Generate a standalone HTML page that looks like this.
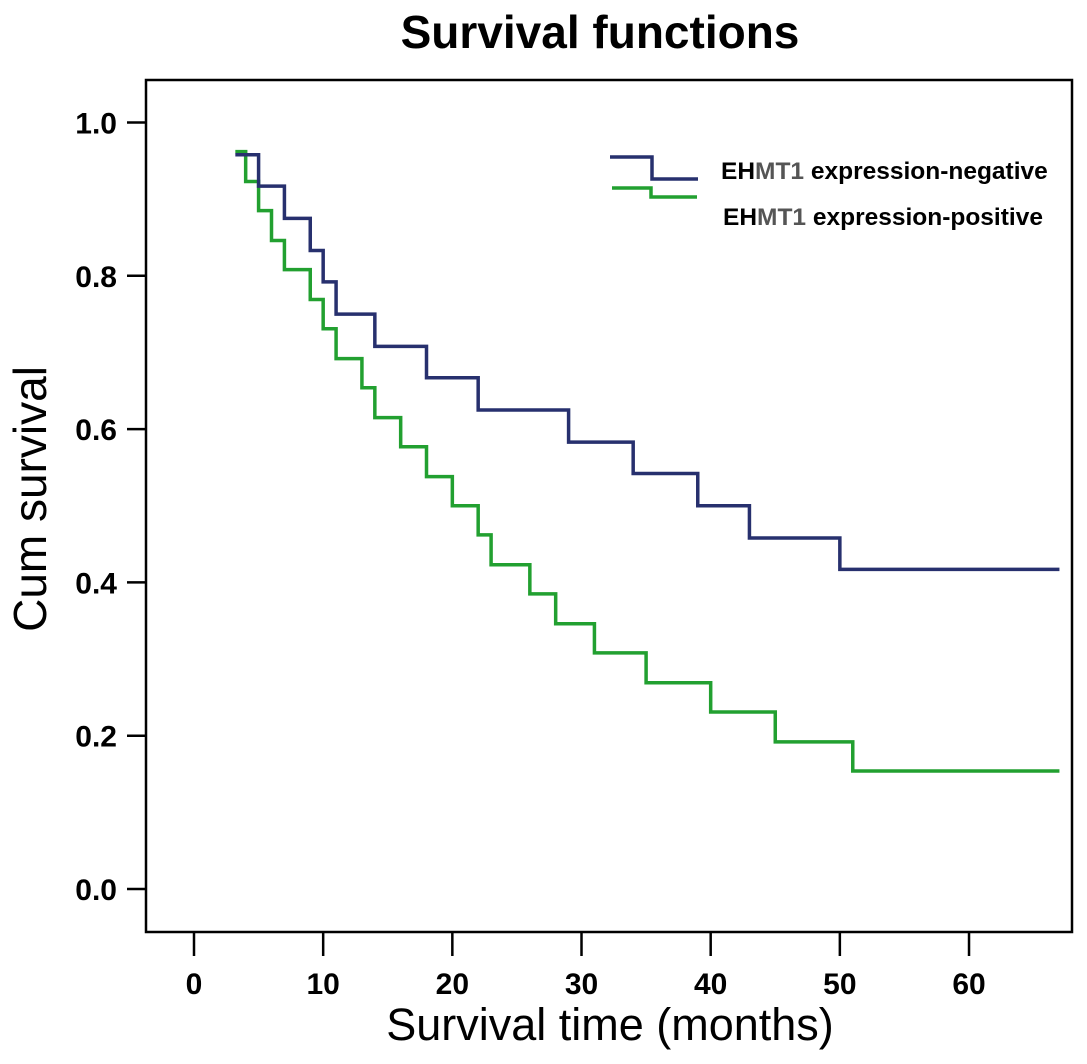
<!DOCTYPE html>
<html><head><meta charset="utf-8"><style>
html,body{margin:0;padding:0;background:#fff;}
svg{display:block;font-family:"Liberation Sans",sans-serif;}
</style></head><body>
<svg id="chart" width="1087" height="1064" viewBox="0 0 1087 1064">
<text x="600" y="48" text-anchor="middle" font-size="46" font-weight="bold">Survival functions</text>
<rect x="146" y="80" width="926" height="852" fill="none" stroke="#000" stroke-width="2.5"/>
<g id="axes"></g>
<g id="series"></g>
<g>
<polyline points="610,157 652,157 652,179 698,179" fill="none" stroke="#27306e" stroke-width="3.5"/>
<text x="721" y="179" font-size="24.5" font-weight="bold">EH<tspan fill="#555">MT1</tspan> expression-negative</text>
<polyline points="612,188 651,188 651,197 697,197" fill="none" stroke="#22a030" stroke-width="3.5"/>
<text x="723" y="225" font-size="24.5" font-weight="bold">EH<tspan fill="#555">MT1</tspan> expression-positive</text>
</g>
<text x="610" y="1040" text-anchor="middle" font-size="45">Survival time (months)</text>
<text transform="translate(46,499) rotate(-90)" text-anchor="middle" font-size="46">Cum survival</text>
</svg>
<script>
const xTicks=[0,10,20,30,40,50,60];
const yTicks=[0,0.2,0.4,0.6,0.8,1.0];
const negTimes=[3.2,5,7,9,10,11,14,18,22,29,34,39,43,50,67];
const negSurv=[0.958,0.917,0.875,0.833,0.792,0.75,0.708,0.667,0.625,0.583,0.542,0.5,0.458,0.417,0.417];
const posTimes=[3.2,4,5,6,7,9,10,11,13,14,16,18,20,22,23,26,28,31,35,40,45,51,67];
const posSurv=[0.962,0.923,0.885,0.846,0.808,0.769,0.731,0.692,0.654,0.615,0.577,0.538,0.5,0.462,0.423,0.385,0.346,0.308,0.269,0.231,0.192,0.154,0.154];
const NS="http://www.w3.org/2000/svg";
const X=v=>194+v*12.917;
const Y=v=>889-v*766.5;
const axes=document.getElementById('axes'), series=document.getElementById('series');
function mk(tag,attrs,parent){const e=document.createElementNS(NS,tag);for(const k in attrs)e.setAttribute(k,attrs[k]);parent.appendChild(e);return e;}
xTicks.forEach(t=>{
 const l=mk('line',{x1:X(t),x2:X(t),y1:932,y2:956,stroke:'#000','stroke-width':2.5},axes);
 
 
 const tx=mk('text',{x:X(t),y:994,'text-anchor':'middle','font-size':30,'font-weight':'bold'},axes);
 tx.textContent=t;
 
 
});
yTicks.forEach(t=>{
 const l=mk('line',{x1:127,x2:146,y1:Y(t),y2:Y(t),stroke:'#000','stroke-width':2.5},axes);
 
 
 const tx=mk('text',{x:117,y:Y(t)+11,'text-anchor':'end','font-size':30,'font-weight':'bold'},axes);
 tx.textContent=t.toFixed(1);
 
 
});
function steps(times,surv,color,name){
 let pts=[];
 for(let i=0;i<times.length;i++){
  if(i>0)pts.push(X(times[i])+','+Y(surv[i-1]));
  pts.push(X(times[i])+','+Y(surv[i]));
 }
 const p=mk('polyline',{points:pts.join(' '),fill:'none',stroke:color,'stroke-width':3.5},series);
 
 
}
steps(posTimes,posSurv,'#22a030','curve-positive');
steps(negTimes,negSurv,'#27306e','curve-negative');
</script>
</body></html>
